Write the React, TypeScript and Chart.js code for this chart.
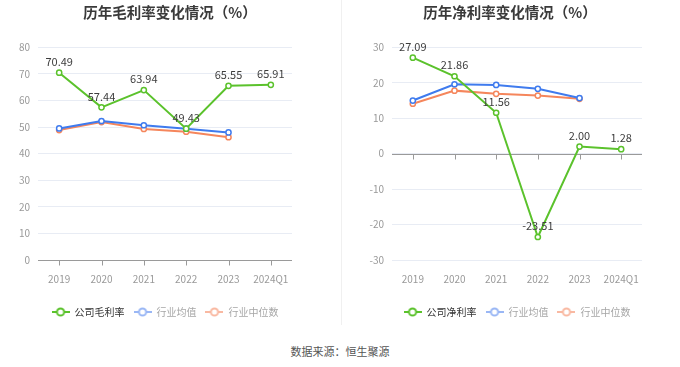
import React, { useEffect, useRef } from 'react';
import { Chart, registerables } from 'chart.js';

Chart.register(...registerables);

const categories = ['2019', '2020', '2021', '2022', '2023', '2024Q1'];

const grossCompany = [70.49, 57.44, 63.94, 49.43, 65.55, 65.91];
const grossIndustryAvg = [49.5, 52.3, 50.7, 49.4, 48.0, null];
const grossIndustryMedian = [48.9, 51.9, 49.3, 48.3, 46.2, null];

const netCompany = [27.09, 21.86, 11.56, -23.51, 2.0, 1.28];
const netIndustryAvg = [15.0, 19.6, 19.4, 18.3, 15.7, null];
const netIndustryMedian = [14.1, 17.8, 16.9, 16.4, 15.5, null];

const grossLabels = ['公司毛利率', '行业均值', '行业中位数'];
const netLabels = ['公司净利率', '行业均值', '行业中位数'];

const grossTitle = '历年毛利率变化情况（%）';
const netTitle = '历年净利率变化情况（%）';
const sourceText = '数据来源：恒生聚源';

const FONT = "'Noto Sans CJK SC', 'Noto Sans', sans-serif";
const GREEN = '#5bc22c';
const BLUE = '#3f7bee';
const ORANGE = '#f5865c';
const LEGEND_COLORS = [GREEN, '#9ab7f5', '#f9b9a2'];
const LEGEND_TEXT = ['#333333', '#a6a6a6', '#a6a6a6'];

function makeIcon(color: string): HTMLCanvasElement {
  const c = document.createElement('canvas');
  c.width = 18;
  c.height = 10;
  const ctx = c.getContext('2d')!;
  ctx.strokeStyle = color;
  ctx.lineWidth = 2;
  ctx.beginPath();
  ctx.moveTo(0, 5);
  ctx.lineTo(18, 5);
  ctx.stroke();
  ctx.beginPath();
  ctx.arc(9, 5, 3.6, 0, Math.PI * 2);
  ctx.fillStyle = '#ffffff';
  ctx.fill();
  ctx.stroke();
  return c;
}

const zeroAxisPlugin = {
  id: 'zeroAxis',
  beforeDatasetsDraw(chart: any) {
    const { ctx, chartArea } = chart;
    const xs = chart.scales.x;
    const ys = chart.scales.y;
    const py = Math.round(ys.getPixelForValue(0)) + 0.5;
    ctx.save();
    ctx.strokeStyle = '#9a9a9a';
    ctx.lineWidth = 1;
    ctx.beginPath();
    ctx.moveTo(chartArea.left, py);
    ctx.lineTo(chartArea.right, py);
    chart.data.labels.forEach((_: any, i: number) => {
      const px = Math.round(xs.getPixelForValue(i)) + 0.5;
      ctx.moveTo(px, py);
      ctx.lineTo(px, py + 5);
    });
    ctx.stroke();
    ctx.restore();
  },
};

const valueLabelPlugin = {
  id: 'valueLabels',
  afterDatasetsDraw(chart: any) {
    const { ctx } = chart;
    const meta = chart.getDatasetMeta(0);
    const data = chart.data.datasets[0].data;
    ctx.save();
    ctx.font = `11px ${FONT}`;
    ctx.fillStyle = '#3d3d3d';
    ctx.textAlign = 'center';
    ctx.textBaseline = 'bottom';
    meta.data.forEach((pt: any, i: number) => {
      const v = data[i];
      if (v == null) return;
      ctx.fillText(Number(v).toFixed(2), pt.x, pt.y - 5.5);
    });
    ctx.restore();
  },
};

interface PanelProps {
  title: string;
  labels: string[];
  company: (number | null)[];
  avg: (number | null)[];
  median: (number | null)[];
  min: number;
  max: number;
  yWidth: number;
  rightWidth: number;
}

function Panel(props: PanelProps) {
  const ref = useRef<HTMLCanvasElement | null>(null);
  useEffect(() => {
    if (!ref.current) return;
    const icons = LEGEND_COLORS.map(makeIcon);
    const mkDs = (label: string, data: (number | null)[], color: string, order: number) => ({
      label,
      data,
      borderColor: color,
      backgroundColor: color,
      borderWidth: 2,
      pointRadius: 2.6,
      pointBorderWidth: 1.5,
      pointBackgroundColor: '#ffffff',
      pointBorderColor: color,
      tension: 0,
      order,
      spanGaps: false,
    });
    const chart = new Chart(ref.current, {
      type: 'line',
      data: {
        labels: categories,
        datasets: [
          mkDs(props.labels[0], props.company, GREEN, 0),
          mkDs(props.labels[1], props.avg, BLUE, 1),
          mkDs(props.labels[2], props.median, ORANGE, 2),
        ],
      },
      options: {
        responsive: false,
        animation: false,
        events: [],
        layout: { padding: { top: 0, bottom: 3, left: 0, right: 0 } },
        plugins: {
          title: {
            display: true,
            text: props.title,
            color: '#3a3a3a',
            font: { family: FONT, size: 14.5, weight: 'bold' },
            padding: { top: 4, bottom: 26 },
          },
          legend: {
            display: true,
            position: 'bottom',
            fullSize: false,
            labels: {
              usePointStyle: true,
              pointStyleWidth: 18,
              padding: 9,
              font: { family: FONT, size: 10 },
              generateLabels: (c: any) =>
                c.data.datasets.map((ds: any, i: number) => ({
                  text: ds.label,
                  fillStyle: LEGEND_COLORS[i],
                  strokeStyle: LEGEND_COLORS[i],
                  lineWidth: 0,
                  pointStyle: icons[i],
                  hidden: false,
                  datasetIndex: i,
                  fontColor: LEGEND_TEXT[i],
                })),
            },
          },
          tooltip: { enabled: false },
        },
        scales: {
          x: {
            type: 'category',
            offset: true,
            grid: { display: false },
            border: { display: false },
            ticks: { color: '#999999', font: { family: FONT, size: 10 }, padding: 5 },
            afterFit: (s: any) => {
              s.height = 38;
            },
          },
          y: {
            min: props.min,
            max: props.max,
            grid: {
              color: '#e8ecf4',
              drawTicks: false,
            },
            border: { display: false },
            ticks: {
              stepSize: 10,
              color: '#999999',
              font: { family: FONT, size: 10 },
              padding: 8,
            },
            afterFit: (s: any) => {
              s.width = props.yWidth;
            },
          },
          yR: {
            position: 'right',
            display: true,
            grid: { display: false },
            border: { display: false },
            ticks: { display: false },
            afterFit: (s: any) => {
              s.width = props.rightWidth;
            },
          },
        },
      },
      plugins: [zeroAxisPlugin, valueLabelPlugin],
    } as any);
    return () => chart.destroy();
  }, []);
  return <canvas ref={ref} width={340} height={330} style={{ display: 'block' }} />;
}

export default function App() {
  return (
    <div
      style={{
        position: 'fixed',
        left: 0,
        top: 0,
        width: 680,
        height: 367,
        background: '#ffffff',
        fontFamily: FONT,
      }}
    >
      <div style={{ position: 'absolute', left: 0, top: 0 }}>
        <Panel
          title={grossTitle}
          labels={grossLabels}
          company={grossCompany}
          avg={grossIndustryAvg}
          median={grossIndustryMedian}
          min={0}
          max={80}
          yWidth={38}
          rightWidth={48}
        />
      </div>
      <div style={{ position: 'absolute', left: 340, top: 0 }}>
        <Panel
          title={netTitle}
          labels={netLabels}
          company={netCompany}
          avg={netIndustryAvg}
          median={netIndustryMedian}
          min={-30}
          max={30}
          yWidth={52}
          rightWidth={38}
        />
      </div>
      <div
        style={{
          position: 'absolute',
          left: 341,
          top: 0,
          width: 1,
          height: 325,
          background: '#f0f0f0',
        }}
      />
      <div
        style={{
          position: 'absolute',
          left: 0,
          top: 343,
          width: 680,
          textAlign: 'center',
          fontSize: 11,
          lineHeight: '16px',
          color: '#555555',
        }}
      >
        {sourceText}
      </div>
    </div>
  );
}
